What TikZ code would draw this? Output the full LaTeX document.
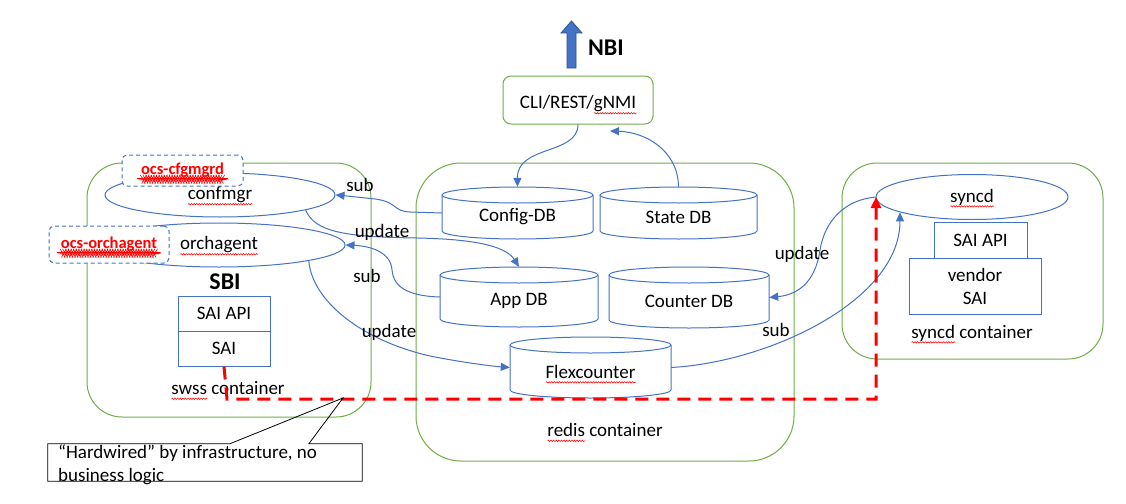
\documentclass[tikz,border=0pt]{standalone}
\usepackage{fontspec}
\setmainfont{Carlito}
\usetikzlibrary{arrows.meta,shapes.geometric,decorations.pathmorphing,calc}
\definecolor{ogreen}{HTML}{70AD47}
\definecolor{oblue}{HTML}{4472C4}
\definecolor{odblue}{HTML}{2F528F}
\newlength\sqlen
\newcommand\sqg[1]{\settowidth\sqlen{#1}\rlap{\raisebox{0pt}[0pt][0pt]{\tikz[baseline=0pt]\draw[red,line width=0.55pt,decorate,decoration={snake,amplitude=0.7pt,segment length=2.6pt}] (0pt,-4.3pt)--(\sqlen,-4.3pt);}}#1}
\newcommand\dbcyl[6]{%
  \node[minimum width={(#3-#2)*1pt}, minimum height={(#5-#4)*1pt}] (#1) at ({(#2+#3)/2},{(#4+#5)/2}) {};
  \draw[bl] (#2,#4+8) -- (#2,#5-8) arc[start angle=180,end angle=360,x radius={(#3-#2)/2*1pt},y radius=8pt] -- (#3,#4+8);
  \draw[bl] ({(#2+#3)/2},#4+8) ellipse[x radius={(#3-#2)/2*1pt},y radius=8pt];
  \node (#1-t) at ({(#2+#3)/2},{(#4+#5)/2+4}) {#6};
}
\begin{document}
\begin{tikzpicture}[x=1pt,y=-1pt,
  every node/.style={font=\fontsize{19}{23}\selectfont, inner sep=0pt},
  cont/.style={draw=ogreen, line width=1pt},
  bl/.style={draw=oblue, line width=1pt},
  conn/.style={draw=oblue, line width=1pt, -{Triangle[length=9pt,width=8pt,fill=oblue]}},
  ocsbox/.style={draw=oblue, line width=1pt, dash pattern=on 4pt off 3pt, rounded corners=5pt, fill=white, text=red, font=\fontsize{16.5}{20}\selectfont\bfseries},
  reddash/.style={draw=red, line width=3pt, dash pattern=on 13pt off 8pt, -{Triangle[length=11pt,width=10pt,fill=red]}},
  boldlbl/.style={font=\fontsize{24}{28}\selectfont\bfseries}]
\useasboundingbox (0,0) rectangle (1126,503);
\fill[white] (0,0) rectangle (1126,503);

% containers
\node[cont, rounded corners=35pt, minimum width=284pt, minimum height=254pt] (swss) at (229,290) {};
\node[cont, rounded corners=45pt, minimum width=378pt, minimum height=298pt] (redis) at (605,312) {};
\node[cont, rounded corners=35pt, minimum width=261pt, minimum height=196pt] (syncdc) at (972.5,261) {};
\node[cont, rounded corners=8pt, minimum width=150pt, minimum height=48pt] (cli) at (578,100) {};
\node (clilbl) at (578,104) {CLI/REST/\sqg{gNMI}};

% NBI arrow
\fill[oblue, draw=odblue, line width=0.8pt] (567,68) -- (567,33) -- (561,33) -- (571.5,21) -- (582,33) -- (576,33) -- (576,68) -- cycle;
\node[boldlbl] (nbi) at (606,48) {NBI};

% databases
\dbcyl{config}{442}{593}{187}{239}{Config-DB}
\dbcyl{state}{600}{757}{187}{239}{State DB}
\dbcyl{app}{440}{598}{267}{327}{App DB}
\dbcyl{counter}{609}{769}{267}{328}{Counter DB}
\dbcyl{flex}{510}{671}{337}{398}{\sqg{Flexcounter}}

% ellipses
\node[ellipse, bl, minimum width=230pt, minimum height=44pt] (confmgr) at (220,195) {\sqg{confmgr}};
\node[ellipse, bl, minimum width=252pt, minimum height=44pt] (orch) at (219,245) {\sqg{orchagent}};
\node[ellipse, bl, minimum width=192pt, minimum height=45pt] (syncd) at (972,197) {\sqg{syncd}};

% SAI boxes
\node[bl, minimum width=92pt, minimum height=35pt] (saiapi) at (224,313.5) {SAI API};
\node[bl, minimum width=92pt, minimum height=35pt] (sai) at (224,348.5) {SAI};
\node[bl, minimum width=93pt, minimum height=36pt] (ssaiapi) at (980.5,240) {SAI API};
\node[bl, minimum width=132pt, minimum height=56pt, align=center] (vsai) at (975,286) {vendor\\SAI};

\node[boldlbl] (sbi) at (225,282) {SBI};
\node (swsslbl) at (228,388) {\sqg{swss} container};
\node (redislbl) at (605,430) {\sqg{redis} container};
\node (syncdlbl) at (972,333) {\sqg{syncd} container};

% connectors
\coordinate (clitip) at (610,131);
\draw[conn] (cli.south) .. controls (578,155) and (517,145) .. (config.north);
\draw[conn] (state.north) .. controls (678,150) and (645,132) .. (clitip);
\draw[conn] (config.west) -- (410,212) .. controls (392,211) and (398,202) .. (375,199) .. controls (360,197) .. (confmgr.east);
\draw[conn] (confmgr.-10.6) .. controls (315,232) and (345,237) .. (417,238) .. controls (470,239) and (505,245) .. (app.north);
\draw[conn] (app.west) .. controls (405,296) and (393,285) .. (392,270) .. controls (391,252) and (370,246) .. (orch.east);
\draw[conn] (orch.-10.1) .. controls (312,300) and (360,340) .. (430,356) .. controls (460,362) and (490,366) .. (flex.west);
\draw[conn] (syncd.west) .. controls (845,200) and (825,220) .. (820,250) .. controls (815,285) and (795,295) .. (counter.east);
\draw[conn] (flex.east) .. controls (770,362) and (900,300) .. (syncd.192.7);

\node (l1) at (360,185) {sub};
\node (l2) at (382,232) {update};
\node (l3) at (367,276) {sub};
\node (l4) at (389,332) {update};
\node (l5) at (802,254) {update};
\node (l6) at (776,330) {sub};

% ocs boxes
\node[ocsbox, minimum width=121pt, minimum height=31pt] (ocscfg) at (182.5,170.5) {\sqg{ocs-cfgmgrd}};
\node[ocsbox, minimum width=120pt, minimum height=37pt] (ocsorch) at (109,244.5) {\sqg{ocs-orchagent}};

% red hardwired path
\coordinate (rc1) at (227,399);
\coordinate (rc2) at (876,399);
\draw[reddash] (sai.south) -- (rc1) -- (rc2) -- (rc2 |- syncd.west);

% callout
\coordinate (tip) at (343,398);
\node[minimum width=314pt, minimum height=37pt] (hw) at (205,462.5) {};
\draw[black, line width=0.8pt] (hw.north west) -- ++(182,0) -- (tip) -- ($(hw.north west)+(261,0)$) -- (hw.north east) -- (hw.south east) -- (hw.south west) -- cycle;
\node[anchor=base west] (hwt1) at (58,458) {“Hardwired” by infrastructure, no};
\node[anchor=base west] (hwt2) at (58,481) {business logic};
\end{tikzpicture}
\end{document}
